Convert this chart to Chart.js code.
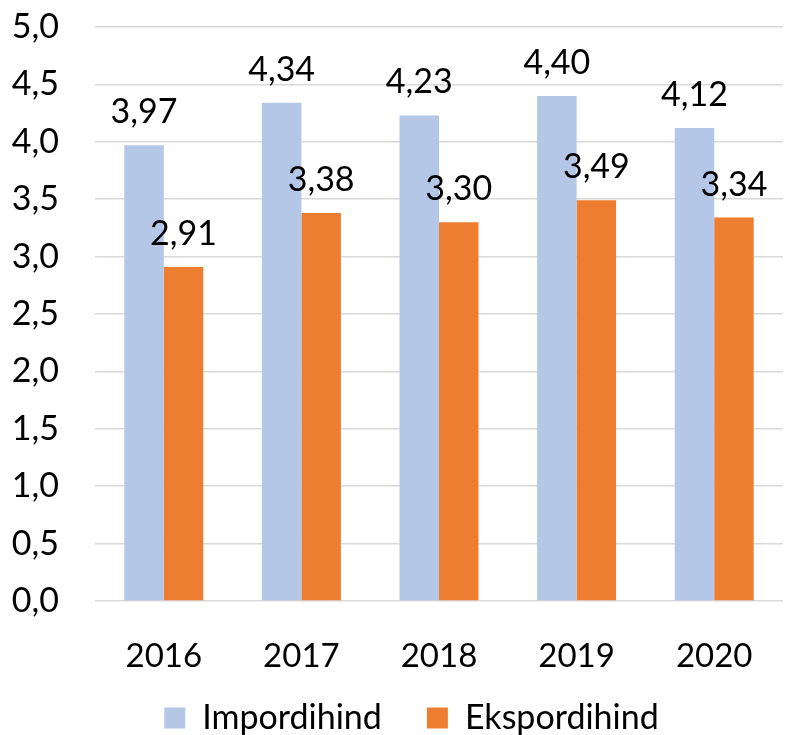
<!DOCTYPE html>
<html>
<head>
<meta charset="utf-8">
<script src="https://cdn.jsdelivr.net/npm/chart.js@4"></script>
<style>
html,body{margin:0;padding:0;background:#fff;}
#wrap{width:795px;height:735px;}
</style>
</head>
<body>
<div id="wrap"><canvas id="c" width="795" height="735"></canvas></div>
<script>
const categories = ['2016','2017','2018','2019','2020'];
const importValues = [3.97, 4.34, 4.23, 4.40, 4.12];
const exportValues = [2.91, 3.38, 3.30, 3.49, 3.34];
const seriesNames = ['Impordihind','Ekspordihind'];

const FONT = 'Lato, "Open Sans", sans-serif';
const fmt = v => v.toFixed(2).replace('.', ',');

const labelPlugin = {
  id: 'valueLabels',
  afterDatasetsDraw(chart) {
    const ctx = chart.ctx;
    ctx.save();
    ctx.font = '34px ' + FONT;
    ctx.fillStyle = '#000';
    ctx.textAlign = 'center';
    ctx.textBaseline = 'alphabetic';
    chart.data.datasets.forEach((ds, i) => {
      const meta = chart.getDatasetMeta(i);
      meta.data.forEach((bar, j) => {
        ctx.fillText(fmt(ds.data[j]), bar.x, bar.y - 22);
      });
    });
    ctx.restore();
  }
};

const legendShift = {
  id: 'legendShift',
  afterLayout(chart) {
    const lg = chart.legend;
    if (!lg) return;
    lg.top -= 20;
    lg.height = 130;
    lg.bottom = lg.top + lg.height;
    lg.left += 20; lg.right += 20;
  }
};

new Chart(document.getElementById('c'), {
  type: 'bar',
  data: {
    labels: categories,
    datasets: [
      { label: seriesNames[0], data: importValues, backgroundColor: '#B4C7E7', borderWidth: 0 },
      { label: seriesNames[1], data: exportValues, backgroundColor: '#ED7D31', borderWidth: 0 }
    ]
  },
  options: {
    responsive: false,
    animation: false,
    layout: { padding: { left: 0, right: 12, top: 27, bottom: 0 } },
    datasets: { bar: { categoryPercentage: 0.574, barPercentage: 1.0 } },
    plugins: {
      legend: {
        position: 'bottom',
        maxHeight: 59,
        labels: {
          font: { family: FONT, size: 34 },
          color: '#000',
          boxWidth: 21,
          boxHeight: 21,
          padding: 45
        }
      },
      tooltip: { enabled: false }
    },
    scales: {
      x: {
        grid: { display: false },
        border: { display: false },
        ticks: { font: { family: FONT, size: 33 }, color: '#000', padding: 28 },
        afterFit(s) { s.height = 75; }
      },
      y: {
        min: 0, max: 5,
        ticks: {
          stepSize: 0.5,
          font: { family: FONT, size: 34 },
          color: '#000',
          padding: 36,
          callback: v => v.toFixed(1).replace('.', ',')
        },
        grid: { color: '#D9D9D9', lineWidth: 1.5, drawTicks: false },
        border: { display: false },
        afterFit(s) { s.width = 95; s.paddingTop = 0; s.paddingBottom = 0; }
      }
    }
  },
  plugins: [labelPlugin, legendShift]
});
</script>
</body>
</html>
